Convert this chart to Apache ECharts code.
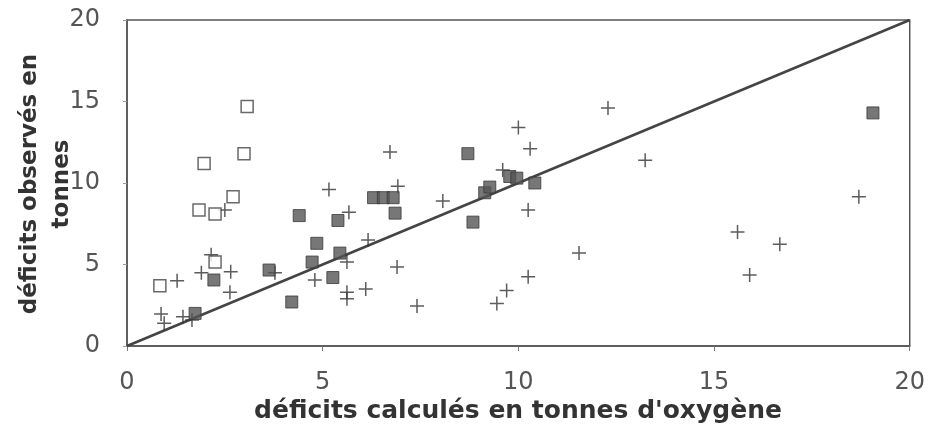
<!DOCTYPE html>
<html>
<head>
<meta charset="utf-8">
<script src="https://cdn.jsdelivr.net/npm/echarts@6/dist/echarts.min.js"></script>
<style>
  html, body { margin: 0; padding: 0; background: #fff; }
  #root { width: 928px; height: 430px; }
</style>
</head>
<body>
<div id="root"></div>
<script>
// points marked with +
const plusX = [0.87, 0.95, 1.43, 1.66, 1.28, 1.9, 2.15, 2.65, 2.63, 2.5, 3.78, 4.8, 5.62, 5.62, 5.62, 6.1, 6.9, 7.41, 6.16, 5.67, 5.16, 6.72, 6.92, 8.07, 9.45, 9.7, 10.25, 10.25, 9.6, 10.0, 10.3, 11.55, 12.29, 13.24, 15.6, 15.91, 16.68, 18.7];
const plusY = [1.96, 1.4, 1.8, 1.6, 4.0, 4.5, 5.6, 4.55, 3.3, 8.35, 4.5, 4.05, 5.15, 3.3, 2.9, 3.5, 4.85, 2.45, 6.5, 8.2, 9.6, 11.9, 9.8, 8.9, 2.6, 3.4, 4.25, 8.35, 10.8, 13.4, 12.1, 5.7, 14.6, 11.4, 7.0, 4.35, 6.25, 9.15];
// filled squares
const fullX = [1.74, 2.22, 3.63, 4.21, 4.4, 4.73, 4.85, 5.26, 5.44, 5.39, 6.3, 6.55, 6.8, 6.85, 8.71, 8.84, 9.14, 9.27, 9.78, 9.96, 10.42, 19.06];
const fullY = [2.0, 4.05, 4.66, 2.7, 8.0, 5.15, 6.3, 4.2, 5.7, 7.7, 9.1, 9.1, 9.1, 8.15, 11.8, 7.6, 9.4, 9.75, 10.4, 10.3, 10.0, 14.3];
// open squares
const openX = [0.84, 1.84, 1.97, 2.25, 2.25, 2.71, 2.99, 3.07];
const openY = [3.7, 8.35, 11.2, 8.1, 5.15, 9.15, 11.8, 14.7];
// y = x reference line
const diagX = [0, 20];
const diagY = [0, 20];
const xTitle = "déficits calculés en tonnes d'oxygène";
const yTitle = 'déficits observés en\ntonnes';

const zip = (xs, ys) => xs.map((x, i) => [x, ys[i]]);

const chart = echarts.init(document.getElementById('root'));
const font = 'DejaVu Sans';

chart.setOption({
  animation: false,
  grid: {
    left: 127, right: 18, top: 20, bottom: 84,
    show: true, borderColor: '#555', borderWidth: 1.5
  },
  graphic: [
    {
      type: 'text', x: 518, y: 411,
      style: { text: xTitle, font: 'bold 25px "DejaVu Sans", sans-serif', fill: '#333', align: 'center', verticalAlign: 'middle' }
    },
    {
      type: 'text', x: 46, y: 184, rotation: Math.PI / 2,
      style: { text: yTitle, font: 'bold 23px "DejaVu Sans", sans-serif', fill: '#333', align: 'center', verticalAlign: 'middle', lineHeight: 32 }
    }
  ],
  xAxis: {
    type: 'value', min: 0, max: 20, interval: 5,
    axisLine: { lineStyle: { color: '#555', width: 1.5 } },
    axisTick: { inside: false, length: 5, lineStyle: { color: '#777' } },
    axisLabel: { margin: 25, align: 'center', verticalAlign: 'top', fontFamily: font, fontSize: 24, color: '#555' },
    splitLine: { show: false }
  },
  yAxis: {
    type: 'value', min: 0, max: 20, interval: 5,
    axisLine: { lineStyle: { color: '#555', width: 1.5 } },
    axisTick: { length: 4, lineStyle: { color: '#999' } },
    axisLabel: { margin: 27, align: 'right', verticalAlign: 'middle', fontFamily: font, fontSize: 24, color: '#555' },
    splitLine: { show: false }
  },
  series: [
    {
      type: 'line', data: zip(diagX, diagY), symbol: 'none', silent: true,
      lineStyle: { color: '#444', width: 2.5 }, z: 1
    },
    {
      type: 'scatter', data: zip(plusX, plusY),
      symbol: 'path://M0,7 L14,7 M7,0 L7,14', symbolSize: 14,
      itemStyle: { color: 'rgba(0,0,0,0)', borderColor: '#333', borderWidth: 1.5 }, z: 3
    },
    {
      type: 'scatter', data: zip(fullX, fullY),
      symbol: 'rect', symbolSize: 12,
      itemStyle: { color: '#555', borderColor: '#3a3a3a', borderWidth: 1 }, z: 4
    },
    {
      type: 'scatter', data: zip(openX, openY),
      symbol: 'rect', symbolSize: 12,
      itemStyle: { color: '#fff', borderColor: '#444', borderWidth: 1.5 }, z: 4
    }
  ]
});
</script>
</body>
</html>
